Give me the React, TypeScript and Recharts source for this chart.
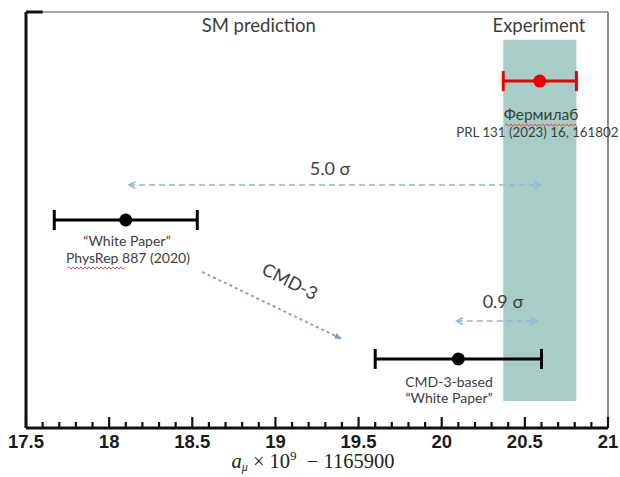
import React from "react";
import {
  ComposedChart,
  Scatter,
  XAxis,
  YAxis,
  ErrorBar,
  ReferenceArea,
  ReferenceLine,
  ReferenceDot,
} from "recharts";

// ---------- data ----------
const xTicks = [
  17.5, 17.6, 17.7, 17.8, 17.9, 18, 18.1, 18.2, 18.3, 18.4, 18.5, 18.6, 18.7, 18.8, 18.9, 19,
  19.1, 19.2, 19.3, 19.4, 19.5, 19.6, 19.7, 19.8, 19.9, 20, 20.1, 20.2, 20.3, 20.4, 20.5, 20.6,
  20.7, 20.8, 20.9, 21,
];
const measurementNames = ["White Paper", "CMD-3-based", "Fermilab"];
const centralValues = [18.1, 20.1, 20.59];
const uncertainties = [0.43, 0.5, 0.22];
const rowLevels = [50, 16.6, 83.4];
const experimentBand = [20.37, 20.81];
const bandLevels = [6.5, 93.3];
const xDomain = [17.5, 21];
const yDomain = [0, 100];

// arrows: [x1, y1, x2, y2]
const sigma50Arrow = [18.12, 58.4, 20.59, 58.4];
const sigma09Arrow = [20.09, 25.7, 20.57, 25.7];
const cmdArrow = [18.56, 37.5, 19.4, 21.4];

const annotations = [
  { x: 18.9, y: 95.2, text: "SM prediction", kind: "head" },
  { x: 20.585, y: 95.2, text: "Experiment", kind: "head" },
  { x: 20.597, y: 74.0, text: "Фермилаб", kind: "ru", squiggle: 1 },
  { x: 20.575, y: 70.0, text: "PRL 131 (2023) 16, 161802", kind: "prl" },
  { x: 18.107, y: 43.75, text: "\u201CWhite Paper\u201D", kind: "small" },
  { x: 18.113, y: 39.66, text: "PhysRep 887 (2020)", kind: "small", squiggle: 2 },
  { x: 20.044, y: 9.86, text: "CMD-3-based", kind: "small" },
  { x: 20.044, y: 6.0, text: "\u201CWhite Paper\u201D", kind: "small" },
  { x: 19.328, y: 60.8, text: "5.0 σ", kind: "sigma" },
  { x: 20.368, y: 28.85, text: "0.9 σ", kind: "sigma" },
  { x: 19.07, y: 33.9, text: "CMD-3", kind: "rot" },
];

const blackPoints = [0, 1].map((i) => ({
  name: measurementNames[i],
  x: centralValues[i],
  y: rowLevels[i],
  err: uncertainties[i],
}));
const redPoints = [2].map((i) => ({
  name: measurementNames[i],
  x: centralValues[i],
  y: rowLevels[i],
  err: uncertainties[i],
}));

const TEXT_FONT = "Lato, 'Open Sans', sans-serif";

const isMajor = (v: number) => Math.abs(v * 2 - Math.round(v * 2)) < 1e-6;

const Tick = (props: any) => {
  const { x, y, payload } = props;
  const v = payload.value as number;
  const major = isMajor(v);
  return (
    <g>
      <line x1={x} x2={x} y1={y} y2={y - (major ? 11 : 6)} stroke="#111" strokeWidth={2.2} />
      {major && (
        <text
          x={x}
          y={y + 20}
          textAnchor="middle"
          fontFamily="'Liberation Sans', Arial, sans-serif"
          fontWeight="bold"
          fontSize={18.5}
          fill="#1a1a1a"
        >
          {String(v)}
        </text>
      )}
    </g>
  );
};

const makeArrow = (color: string, dash: string, both: boolean, width: number) => (p: any) => {
  const { x1, y1, x2, y2 } = p;
  const ang = Math.atan2(y2 - y1, x2 - x1);
  const hl = 7;
  const hw = 0.5;
  const head = (hx: number, hy: number, a: number) => {
    const ax = hx - hl * Math.cos(a - hw);
    const ay = hy - hl * Math.sin(a - hw);
    const bx = hx - hl * Math.cos(a + hw);
    const by = hy - hl * Math.sin(a + hw);
    return (
      <polyline
        points={`${ax},${ay} ${hx},${hy} ${bx},${by}`}
        fill="none"
        stroke={color}
        strokeWidth={1.6}
      />
    );
  };
  return (
    <g>
      <line x1={x1} y1={y1} x2={x2} y2={y2} stroke={color} strokeWidth={width} strokeDasharray={dash} />
      {head(x2, y2, ang)}
      {both && head(x1, y1, ang + Math.PI)}
    </g>
  );
};

const cmdArrowShape = (p: any) => {
  const { x1, y1, x2, y2 } = p;
  const ang = Math.atan2(y2 - y1, x2 - x1);
  const hl = 8;
  const hw = 0.4;
  const ax = x2 - hl * Math.cos(ang - hw);
  const ay = y2 - hl * Math.sin(ang - hw);
  const bx = x2 - hl * Math.cos(ang + hw);
  const by = y2 - hl * Math.sin(ang + hw);
  return (
    <g>
      <line x1={x1} y1={y1} x2={x2} y2={y2} stroke="#8ea3bf" strokeWidth={2} strokeDasharray="3 3" />
      <polygon points={`${ax},${ay} ${x2},${y2} ${bx},${by}`} fill="#7d9cc6" />
    </g>
  );
};

const squigglePath = (x0: number, x1: number, y: number) => {
  let d = `M${x0},${y}`;
  let up = true;
  for (let xx = x0 + 2; xx <= x1; xx += 2) {
    d += ` L${xx},${y + (up ? -1.2 : 1.2)}`;
    up = !up;
  }
  return d;
};

const makeAnnotation = (a: any) => (p: any) => {
  const { cx, cy } = p;
  if (a.kind === "head") {
    return (
      <text x={cx} y={cy} textAnchor="middle" fontFamily={TEXT_FONT} fontSize={18.5} fill="#3d3d3d">
        {a.text}
      </text>
    );
  }
  if (a.kind === "sigma") {
    return (
      <text x={cx} y={cy} textAnchor="middle" fontFamily={TEXT_FONT} fontSize={18} fill="#3d3d3d">
        {a.text}
      </text>
    );
  }
  if (a.kind === "rot") {
    return (
      <text
        x={cx}
        y={cy}
        textAnchor="middle"
        fontFamily={TEXT_FONT}
        fontSize={18}
        fill="#3d3d3d"
        transform={`rotate(27 ${cx} ${cy})`}
      >
        {a.text}
      </text>
    );
  }
  const fs = a.kind === "ru" ? 15.5 : a.kind === "prl" ? 13.3 : 14;
  return (
    <g>
      <text x={cx} y={cy} textAnchor="middle" fontFamily={TEXT_FONT} fontSize={fs} fill="#3d3d3d">
        {a.text}
      </text>
      {a.squiggle === 1 && (
        <path d={squigglePath(cx - 36, cx + 36, cy + 5)} stroke="#e04040" strokeWidth={0.9} fill="none" />
      )}
      {a.squiggle === 2 && (
        <path d={squigglePath(cx - 61, cx - 3, cy + 5)} stroke="#e04040" strokeWidth={0.9} fill="none" />
      )}
    </g>
  );
};

const AxisTitle = (props: any) => {
  const { viewBox } = props;
  const cx = viewBox.x + viewBox.width / 2 - 4;
  const y = viewBox.y + 40;
  return (
    <text
      x={cx}
      y={y}
      textAnchor="middle"
      fontFamily="'Liberation Serif', 'DejaVu Serif', serif"
      fontSize={20.5}
      fill="#222"
    >
      <tspan fontStyle="italic">a</tspan>
      <tspan fontStyle="italic" fontSize={12} dy={3}>
        μ
      </tspan>
      <tspan dy={-3}> × 10</tspan>
      <tspan fontSize={13} dy={-8}>
        9
      </tspan>
      <tspan dy={8}>{"\u2002\u2212 1165900"}</tspan>
    </text>
  );
};

const dotShape = (color: string) => (p: any) => <circle cx={p.cx} cy={p.cy} r={6.5} fill={color} />;

export default function App() {
  return (
    <div style={{ width: 620, height: 477, background: "#fff" }}>
      <style>{"body{margin:0;background:#fff}"}</style>
      <ComposedChart
        width={620}
        height={477}
        margin={{ top: 12, right: 12, left: 26, bottom: 19 }}
      >
        <XAxis
          type="number"
          dataKey="x"
          domain={xDomain}
          ticks={xTicks}
          interval={0}
          tick={<Tick />}
          tickLine={false}
          tickSize={0}
          tickMargin={0}
          height={30}
          axisLine={{ stroke: "#111", strokeWidth: 3 }}
          allowDataOverflow
          label={{ content: <AxisTitle /> }}
        />
        <YAxis
          type="number"
          dataKey="y"
          domain={yDomain}
          width={0}
          tick={false}
          tickLine={false}
          axisLine={false}
          allowDataOverflow
        />
        <ReferenceLine
          segment={[
            { x: xDomain[0], y: yDomain[1] },
            { x: xDomain[1], y: yDomain[1] },
          ]}
          stroke="#8a8a8a"
          strokeWidth={1.5}
          ifOverflow="visible"
        />
        <ReferenceLine
          segment={[
            { x: xDomain[1], y: yDomain[0] },
            { x: xDomain[1], y: yDomain[1] },
          ]}
          stroke="#666"
          strokeWidth={1.5}
          ifOverflow="visible"
        />
        <ReferenceLine
          segment={[
            { x: xDomain[0], y: yDomain[0] },
            { x: xDomain[0], y: yDomain[1] },
          ]}
          stroke="#111"
          strokeWidth={3}
          ifOverflow="visible"
        />
        <ReferenceLine
          segment={[
            { x: 17.5, y: 100 },
            { x: 17.6, y: 100 },
          ]}
          stroke="#111"
          strokeWidth={3}
          ifOverflow="visible"
        />
        <ReferenceArea
          x1={experimentBand[0]}
          x2={experimentBand[1]}
          y1={bandLevels[0]}
          y2={bandLevels[1]}
          fill="#a7cec6"
          fillOpacity={1}
          stroke="none"
        />
        <ReferenceLine
          segment={[
            { x: sigma50Arrow[0], y: sigma50Arrow[1] },
            { x: sigma50Arrow[2], y: sigma50Arrow[3] },
          ]}
          shape={makeArrow("#93b4db", "6 4", true, 1.5)}
        />
        <ReferenceLine
          segment={[
            { x: sigma09Arrow[0], y: sigma09Arrow[1] },
            { x: sigma09Arrow[2], y: sigma09Arrow[3] },
          ]}
          shape={makeArrow("#93b4db", "6 4", true, 1.5)}
        />
        <ReferenceLine
          segment={[
            { x: cmdArrow[0], y: cmdArrow[1] },
            { x: cmdArrow[2], y: cmdArrow[3] },
          ]}
          shape={cmdArrowShape}
        />
        <Scatter data={blackPoints} isAnimationActive={false} shape={dotShape("#000")}>
          <ErrorBar dataKey="err" direction="x" width={10} stroke="#000" strokeWidth={3} isAnimationActive={false} />
        </Scatter>
        <Scatter data={redPoints} isAnimationActive={false} shape={dotShape("#ee0000")}>
          <ErrorBar dataKey="err" direction="x" width={10} stroke="#ee0000" strokeWidth={3} isAnimationActive={false} />
        </Scatter>
        {annotations.map((a, i) => (
          <ReferenceDot key={i} x={a.x} y={a.y} r={0} shape={makeAnnotation(a)} />
        ))}
      </ComposedChart>
    </div>
  );
}
